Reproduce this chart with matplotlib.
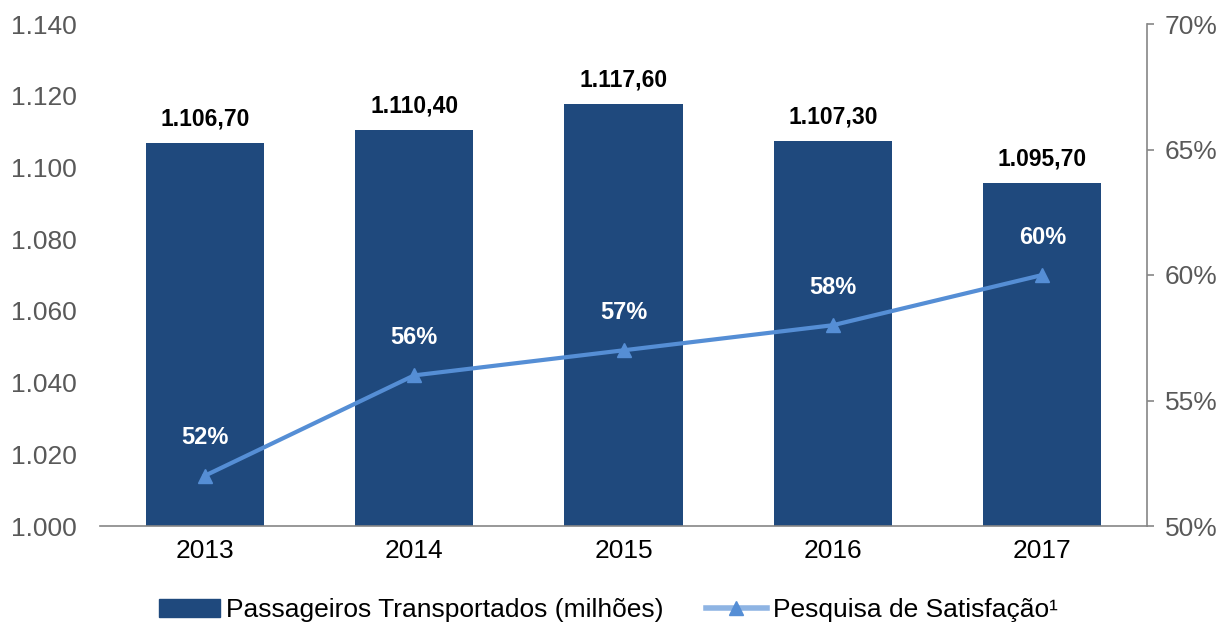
import matplotlib.pyplot as plt
from matplotlib.lines import Line2D
from matplotlib.patches import Patch

plt.rcParams['font.family'] = ['Liberation Sans', 'DejaVu Sans']

years = ['2013', '2014', '2015', '2016', '2017']
passageiros = [1106.7, 1110.4, 1117.6, 1107.3, 1095.7]
satisfacao = [52, 56, 57, 58, 60]
left_ticks = [1000, 1020, 1040, 1060, 1080, 1100, 1120, 1140]
right_ticks = [50, 55, 60, 65, 70]

bar_color = '#1F497D'
line_color = '#558ED5'
gray = '#595959'

fig = plt.figure(figsize=(12.27, 6.28), dpi=100)
ax = fig.add_axes([100 / 1227, 1 - 526 / 628, 1047 / 1227, 502 / 628])
x = list(range(len(years)))

ax.bar(x, passageiros, width=0.565, color=bar_color, zorder=2)
ax.set_xlim(-0.5, 4.5)
ax.set_ylim(1000, 1140)
ax.set_yticks(left_ticks)
ax.set_yticklabels([f'{v / 1000:.3f}' for v in left_ticks])
ax.set_xticks(x)
ax.set_xticklabels(years)
ax.tick_params(axis='y', length=0, labelsize=19, labelcolor=gray, pad=17)
ax.tick_params(axis='x', length=0, labelsize=19, colors='black', pad=9)
for s in ['top', 'right', 'left']:
    ax.spines[s].set_visible(False)
ax.spines['bottom'].set_color('#868686')
ax.spines['bottom'].set_linewidth(1.2)

for xi, v in zip(x, passageiros):
    txt = f'{v:,.2f}'.replace(',', 'X').replace('.', ',').replace('X', '.')
    ax.annotate(txt, (xi, v), xytext=(0, 9), textcoords='offset points',
                ha='center', va='bottom', fontsize=16.5, fontweight='bold', color='black')

ax2 = ax.twinx()
ax2.plot(x, satisfacao, color=line_color, linewidth=3, marker='^', markersize=10, zorder=3)
ax2.set_ylim(50, 70)
ax2.set_yticks(right_ticks)
ax2.set_yticklabels([f'{v}%' for v in right_ticks])
ax2.tick_params(axis='y', length=5, width=1.2, color='#868686', labelsize=19, labelcolor=gray, pad=8)
for s in ['top', 'left', 'bottom']:
    ax2.spines[s].set_visible(False)
ax2.spines['right'].set_color('#868686')
ax2.spines['right'].set_linewidth(1.2)

for xi, v in zip(x, satisfacao):
    ax2.annotate(f'{v}%', (xi, v), xytext=(0, 19), textcoords='offset points',
                 ha='center', va='bottom', fontsize=17, fontweight='bold', color='white')

handles = [Patch(color=bar_color),
           Line2D([0], [0], color='#8EB4E3', linewidth=4, marker='^', markersize=10,
                  markerfacecolor=line_color, markeredgecolor=line_color)]
labels = ['Passageiros Transportados (milhões)', 'Pesquisa de Satisfação¹']
fig.legend(handles, labels, loc='center', bbox_to_anchor=(0.496, 1 - 610 / 628), ncol=2,
           frameon=False, fontsize=19, handlelength=2.3, columnspacing=1.6, handletextpad=0.25)

fig.savefig('out.png', dpi=100)
